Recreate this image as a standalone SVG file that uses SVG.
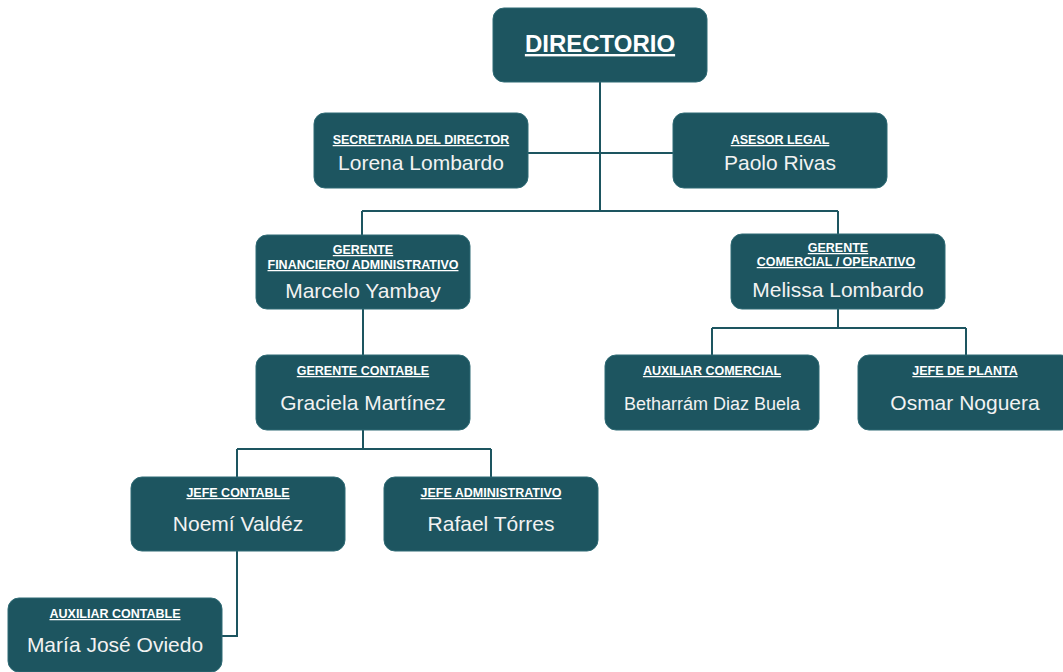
<svg xmlns="http://www.w3.org/2000/svg" width="1063" height="672" viewBox="0 0 1063 672">
<style>
.box{fill:#1d5560;stroke:#2f6b75;stroke-width:1}
.t{font-family:"Liberation Sans",Arial,sans-serif;font-weight:bold;font-size:12.5px;fill:#ffffff;text-decoration:underline;text-anchor:middle}
.n{font-family:"Liberation Sans",Arial,sans-serif;font-size:21px;fill:#f2f2f2;text-anchor:middle}
.c{fill:none;stroke:#1d5560;stroke-width:2}
</style>
<rect width="1063" height="672" fill="#ffffff"/>
<g id="connectors">
<path class="c" d="M600 82 V211 M528 153 H673 M362 211 H838 M362 211 V235 M838 211 V235"/>
<path class="c" d="M363 309 V355"/>
<path class="c" d="M838 309 V328 M712 328 H966 M712 328 V355 M966 328 V355"/>
<path class="c" d="M363 430 V449 M237 449 H491 M237 449 V477 M491 449 V477"/>
<path class="c" d="M237 551 V636 H222"/>
</g>
<g id="directorio">
<rect class="box" x="493" y="8" width="214" height="74" rx="11"/>
<text x="600" y="52" style="font-family:'Liberation Sans',Arial,sans-serif;font-weight:bold;font-size:24px;fill:#fff;text-decoration:underline;text-anchor:middle">DIRECTORIO</text>
</g>
<g id="secretaria">
<rect class="box" x="314" y="113" width="214" height="75" rx="11"/>
<text class="t" x="421" y="144">SECRETARIA DEL DIRECTOR</text>
<text class="n" x="421" y="170">Lorena Lombardo</text>
</g>
<g id="asesor">
<rect class="box" x="673" y="113" width="214" height="75" rx="11"/>
<text class="t" x="780" y="144">ASESOR LEGAL</text>
<text class="n" x="780" y="170">Paolo Rivas</text>
</g>
<g id="gerente-fin">
<rect class="box" x="256" y="235" width="214" height="74" rx="11"/>
<text class="t" x="363" y="254">GERENTE </text>
<text class="t" x="363" y="269">FINANCIERO/ ADMINISTRATIVO</text>
<text class="n" x="363" y="298">Marcelo Yambay</text>
</g>
<g id="gerente-com">
<rect class="box" x="731" y="234" width="214" height="75" rx="11"/>
<text class="t" x="838" y="252">GERENTE </text>
<text class="t" x="836" y="266">COMERCIAL / OPERATIVO</text>
<text class="n" x="838" y="297">Melissa Lombardo</text>
</g>
<g id="gerente-contable">
<rect class="box" x="256" y="355" width="214" height="75" rx="11"/>
<text class="t" x="363" y="375">GERENTE CONTABLE </text>
<text class="n" x="363" y="410">Graciela Martínez</text>
</g>
<g id="auxiliar-comercial">
<rect class="box" x="605" y="355" width="214" height="75" rx="11"/>
<text class="t" x="712" y="375">AUXILIAR COMERCIAL </text>
<text class="n" x="712" y="410" style="font-size:18px">Betharrám Diaz Buela</text>
</g>
<g id="jefe-planta">
<rect class="box" x="858" y="355" width="214" height="75" rx="11"/>
<text class="t" x="965" y="375">JEFE DE PLANTA </text>
<text class="n" x="965" y="410">Osmar Noguera</text>
</g>
<g id="jefe-contable">
<rect class="box" x="131" y="477" width="214" height="74" rx="11"/>
<text class="t" x="238" y="497">JEFE CONTABLE</text>
<text class="n" x="238" y="531">Noemí Valdéz</text>
</g>
<g id="jefe-admin">
<rect class="box" x="384" y="477" width="214" height="74" rx="11"/>
<text class="t" x="491" y="497">JEFE ADMINISTRATIVO </text>
<text class="n" x="491" y="531">Rafael Tórres</text>
</g>
<g id="auxiliar-contable">
<rect class="box" x="8" y="598" width="214" height="74" rx="11"/>
<text class="t" x="115" y="618">AUXILIAR  CONTABLE</text>
<text class="n" x="115" y="652">María José Oviedo</text>
</g>
</svg>
